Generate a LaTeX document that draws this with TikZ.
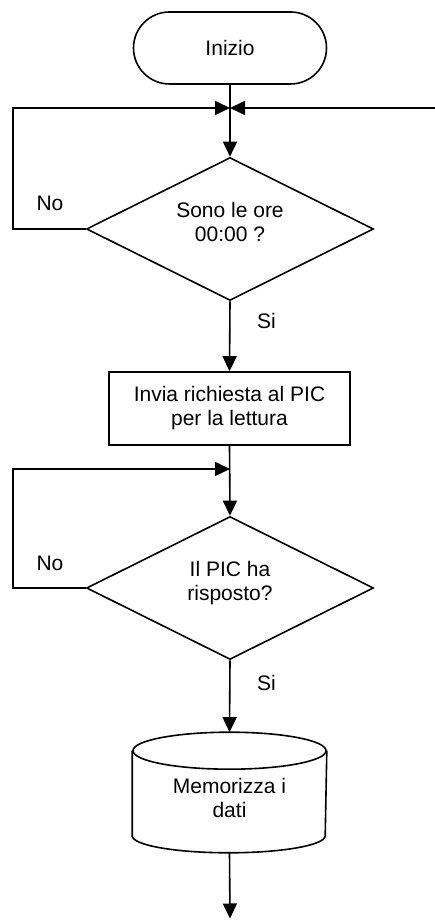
\documentclass[tikz,border=0pt]{standalone}
\usepackage{fontspec}
\setmainfont{Liberation Sans}
\usetikzlibrary{arrows.meta,shapes.geometric,positioning}
% testo su due righe, spostato in verticale
\newcommand{\righe}[2]{\raisebox{#1}[0pt][0pt]{\begin{tabular}{@{}c@{}}#2\end{tabular}}}

\begin{document}
\begin{tikzpicture}[x=1pt, y=1pt, line width=1.6pt,
		every node/.style={font=\fontsize{21}{24}\selectfont, align=center},
		freccia/.style={-{Triangle[length=15pt, width=14pt]}},
		terminale/.style={draw, rectangle, rounded corners=36pt, minimum width=193pt, minimum height=72pt},
		decisione/.style={draw, diamond, aspect=2, inner sep=0pt, minimum width=287pt, minimum height=143pt},
		processo/.style={draw, rectangle, minimum width=241pt, minimum height=73pt}]
			\useasboundingbox (0, 0) rectangle (435, 920);
			% blocchi
			\node[terminale] (inizio) at (230, 872) {Inizio};
			\node[decisione] (ore) at (230, 691) {\righe{-1pt}{Sono le ore\\00:00 ?}};
			\node[processo] (invia) at (229.5, 511.5) {Invia richiesta al PIC\\per la lettura};
			\node[decisione] (risposta) at (230, 332) {\righe{-1pt}{Il PIC ha\\risposto?}};
			\node[minimum width=193pt, minimum height=119pt, inner sep=0pt] (memo) at (229.5, 127.5)
				{\righe{-13pt}{Memorizza i\\dati}};
			% cilindro
			\draw ([yshift=-18.5pt]memo.north west) -- ([yshift=17pt]memo.south west)
				arc[start angle=180, end angle=360, x radius=96.5pt, y radius=17pt]
				-- ([yshift=-18.5pt]memo.north east);
			\draw ([yshift=-18.5pt]memo.north) ellipse [x radius=96.5pt, y radius=18.5pt];
			% etichette
			\node (no1) at (50, 716.5) {No};
			\node (si1) at (266.5, 598.5) {Si};
			\node (no2) at (50, 357) {No};
			\node (si2) at (266.5, 237.5) {Si};
			% punti di raccordo
			\coordinate (giunto1) at (230, 812);
			\coordinate (giunto2) at (230, 451);
			\coordinate (ritorno1) at (13, 812);
			\coordinate (ritorno2) at (13, 451);
			\coordinate (destra) at (435, 812);
			\coordinate (fine) at (230, 1.5);
			% frecce
			\draw[freccia] (inizio.south) -- (ore.north);
			\draw[freccia] (ore.west) -| (ritorno1) -- (giunto1);
			\draw[freccia] (destra) -- (giunto1);
			\draw[freccia] (ore.south) -- (invia.north);
			\draw[freccia] (invia.south) -- (risposta.north);
			\draw[freccia] (risposta.west) -| (ritorno2) -- (giunto2);
			\draw[freccia] (risposta.south) -- (memo.north);
			\draw[freccia] (memo.south) -- (fine);
		\end{tikzpicture}
\end{document}
